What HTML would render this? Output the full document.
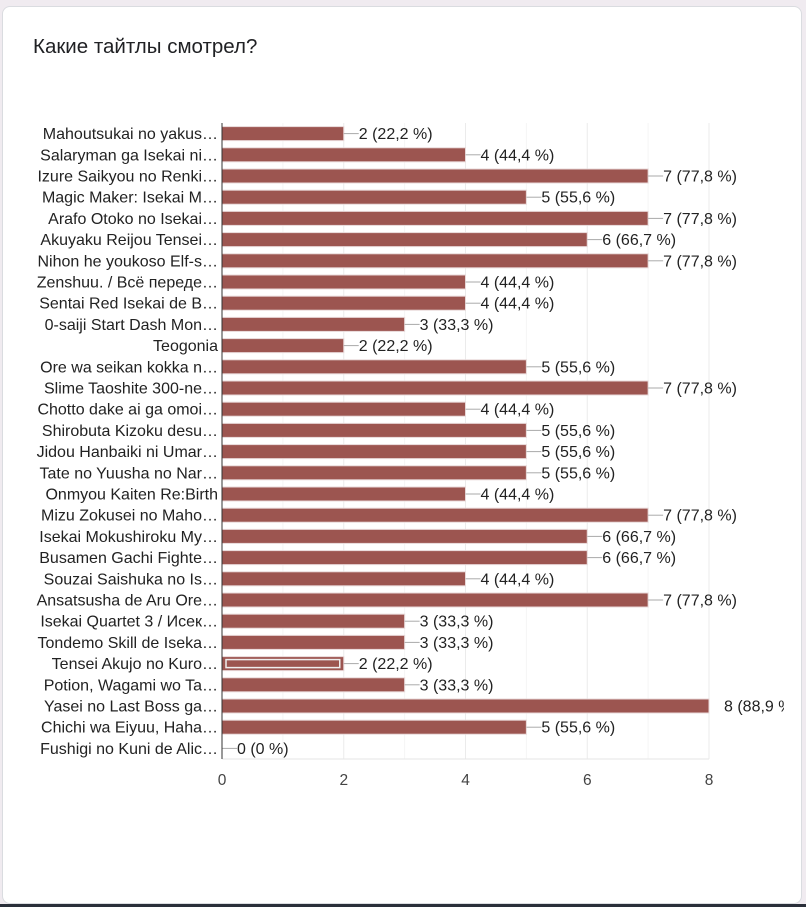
<!DOCTYPE html>
<html><head><meta charset="utf-8"><style>
body{margin:0;background:#f0ebf0;width:806px;height:907px;overflow:hidden;font-family:"Liberation Sans",sans-serif}
#card{position:absolute;left:2px;top:6px;width:800px;height:898px;background:#fff;border:1px solid #dadce0;border-radius:8px;box-sizing:border-box}
#title{position:absolute;left:33px;top:35px;font-size:20.5px;color:#202124}
#bottom{position:absolute;left:0;top:904px;width:806px;height:3px;background:#2a2f3a}
</style></head><body>
<div id="card"></div>
<div id="title">Какие тайтлы смотрел?</div>
<div id="bottom"></div>
<svg id="chart" width="806" height="907" style="position:absolute;left:0;top:0"><defs><clipPath id="cp"><rect x="0" y="0" width="784" height="907"/></clipPath></defs></svg>
<script>
const categories=["Mahoutsukai no yakus…","Salaryman ga Isekai ni…","Izure Saikyou no Renki…","Magic Maker: Isekai M…","Arafo Otoko no Isekai…","Akuyaku Reijou Tensei…","Nihon he youkoso Elf-s…","Zenshuu. / Всё передe…","Sentai Red Isekai de B…","0-saiji Start Dash Mon…","Teogonia","Ore wa seikan kokka n…","Slime Taoshite 300-ne…","Chotto dake ai ga omoi…","Shirobuta Kizoku desu…","Jidou Hanbaiki ni Umar…","Tate no Yuusha no Nar…","Onmyou Kaiten Re:Birth","Mizu Zokusei no Maho…","Isekai Mokushiroku My…","Busamen Gachi Fighte…","Souzai Saishuka no Is…","Ansatsusha de Aru Ore…","Isekai Quartet 3 / Исек…","Tondemo Skill de Iseka…","Tensei Akujo no Kuro…","Potion, Wagami wo Ta…","Yasei no Last Boss ga…","Chichi wa Eiyuu, Haha…","Fushigi no Kuni de Alic…"];
const values=[2,4,7,5,7,6,7,4,4,3,2,5,7,4,5,5,5,4,7,6,6,4,7,3,3,2,3,8,5,0];
const percents=["22,2","44,4","77,8","55,6","77,8","66,7","77,8","44,4","44,4","33,3","22,2","55,6","77,8","44,4","55,6","55,6","55,6","44,4","77,8","66,7","66,7","44,4","77,8","33,3","33,3","22,2","33,3","88,9","55,6","0"];
const ticks=[0,2,4,6,8];
const svg=document.getElementById('chart');const NS="http://www.w3.org/2000/svg";
const x0=222,x1=709,plotTop=123,rowH=21.2,plotBottom=plotTop+rowH*categories.length;
const X=v=>x0+(x1-x0)*v/8;
function mk(t,a){const e=document.createElementNS(NS,t);for(const k in a)e.setAttribute(k,a[k]);svg.appendChild(e);return e;}
for(let v=0;v<=8;v++){const g=mk('line',{x1:X(v),x2:X(v),y1:plotTop,y2:plotBottom,stroke:v%2?'#f5f5f5':'#ebebeb'});

}
const bl=mk('line',{x1:x0,x2:x1,y1:plotBottom,y2:plotBottom,stroke:'#e6e6e6'});


ticks.forEach(t=>{const e=mk('text',{x:X(t),y:plotBottom+26,'text-anchor':'middle','font-size':15.5,fill:'#444'});e.textContent=t;

});
categories.forEach((c,i)=>{const cy=plotTop+rowH*i+rowH/2;
const l=mk('text',{x:218,y:cy+5.5,'text-anchor':'end','font-size':16,fill:'#222'});l.textContent=c;


const v=values[i];
if(v>0){const b=mk('rect',{x:x0,y:cy-7,width:X(v)-x0,height:14,fill:'#9c5550',stroke:'#e8d8d8','stroke-width':1});


if(i===25){const h=mk('rect',{x:x0+4,y:cy-4,width:X(v)-x0-8,height:8,fill:'none',stroke:'#eee','stroke-width':1.5});

}}
let lx=X(v);
if(v<8){const ln=mk('line',{x1:lx,x2:lx+15,y1:cy,y2:cy,stroke:'#aaa'});

lx+=15;}else lx+=15;
const t=mk('text',{x:lx,y:cy+5.5,'font-size':16,fill:'#222','clip-path':'url(#cp)'});t.textContent=v+' ('+percents[i]+' %)';

});
const ax=mk('line',{x1:x0,x2:x0,y1:plotTop,y2:plotBottom,stroke:'#333'});


</script>
</body></html>
